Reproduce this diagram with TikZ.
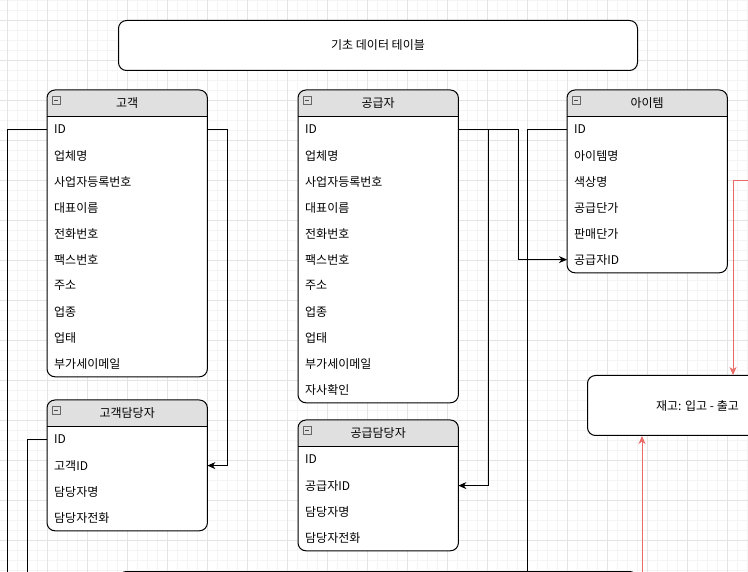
\documentclass[tikz,border=0pt]{standalone}
\usepackage{fontspec}
\setmainfont{Noto Sans CJK KR}
\usepackage{xcolor}
\usetikzlibrary{arrows.meta,positioning,calc}

\definecolor{gridmajor}{HTML}{E4E4E4}
\definecolor{gridminor}{HTML}{F4F4F4}
\definecolor{hdrgray}{HTML}{E0E0E0}
\definecolor{linkred}{HTML}{EA6B66}

\pgfdeclarelayer{grid}
\pgfdeclarelayer{frame}
\pgfsetlayers{grid,frame,main}

% table: name, top-left corner, title, fields
\newcommand{\ertable}[4]{%
  \node[hd] (#1) at (#2) {#3};
  \foreach \f [count=\i] in {#4} {
    \node[fld] (#1-\i) at ([yshift={-26pt*(\i-1)}]#1.south west) {\f};
    \coordinate (#1-end) at (#1-\i.south east);
  }
  \begin{pgfonlayer}{frame}
    \fill[white, rounded corners=8pt] (#1.north west) rectangle (#1-end);
    \fill[hdrgray] (#1.south west) [rounded corners=8pt] -- (#1.north west) -- (#1.north east) [sharp corners] -- (#1.south east) -- cycle;
    \draw[line width=1pt] (#1.south west) -- (#1.south east);
    \draw[line width=1pt, rounded corners=8pt] (#1.north west) rectangle (#1-end);
    \draw[black!60, line width=0.6pt] ([shift={(5pt,-6pt)}]#1.north west) rectangle ++(8pt,-8pt);
    \draw[black!70, line width=0.6pt] ([shift={(7pt,-10pt)}]#1.north west) -- ++(4pt,0pt);
  \end{pgfonlayer}
}

\begin{document}
\begin{tikzpicture}[
  x=1pt, y=-1pt,
  font=\fontsize{12pt}{14pt}\selectfont,
  hd/.style={anchor=north west, inner sep=0pt, minimum width=160pt, minimum height=26pt},
  fld/.style={anchor=north west, inner xsep=7pt, inner ysep=0pt, text width=146pt, align=left, minimum height=26pt},
  box/.style={draw, line width=1pt, rounded corners=8pt, fill=white, anchor=north west, inner sep=0pt},
  fk/.style={-{Stealth[length=8pt, width=7pt, inset=2.5pt]}, line width=1pt},
  fkred/.style={fk, draw=linkred},
  ln/.style={line width=1pt}]
\useasboundingbox (0,0) rectangle (748,572);
% grid
\begin{pgfonlayer}{grid}
  \fill[white] (0,0) rectangle (748,572);
  \foreach \x in {7,17,...,747} \draw[gridminor, line width=0.7pt] (\x,0) -- (\x,572);
  \foreach \y in {0,10,...,570} \draw[gridminor, line width=0.7pt] (0,\y) -- (748,\y);
  \foreach \x in {7,47,...,747} \draw[gridmajor, line width=0.7pt] (\x,0) -- (\x,572);
  \foreach \y in {20,60,...,570} \draw[gridmajor, line width=0.7pt] (0,\y) -- (748,\y);
\end{pgfonlayer}
% boxes
\node[box, minimum width=220pt, minimum height=60pt] (stock) at (587,375) {재고: 입고 - 출고};
\node[box, minimum width=519pt, minimum height=50pt] (base) at (118,20) {기초 데이터 테이블};
\node[box, minimum width=519pt, minimum height=60pt] (ledger) at (118,571) {};
% tables
\ertable{cust}{47,90}{고객}{ID,업체명,사업자등록번호,대표이름,전화번호,팩스번호,주소,업종,업태,부가세이메일}
\ertable{supp}{298,90}{공급자}{ID,업체명,사업자등록번호,대표이름,전화번호,팩스번호,주소,업종,업태,부가세이메일,자사확인}
\ertable{item}{567,90}{아이템}{ID,아이템명,색상명,공급단가,판매단가,공급자ID}
\ertable{custmgr}{47,400}{고객담당자}{ID,고객ID,담당자명,담당자전화}
\ertable{suppmgr}{298,420}{공급담당자}{ID,공급자ID,담당자명,담당자전화}
% links
\coordinate (custout) at (7,585);
\coordinate (mgrout) at (27,585);
\coordinate (itemout) at (527,585);
\coordinate (redin) at (760,181);
\coordinate (redout) at (642,585);
\draw[ln] (cust-1.west) -| (custout);
\draw[ln] (custmgr-1.west) -| (mgrout);
\draw[ln] (item-1.west) -| (itemout);
\draw[fk] (cust-1.east) -- ++(20,0) |- (custmgr-2.east);
\draw[fk] (supp-1.east) -- ++(30,0) |- (suppmgr-2.east);
\draw[fk] (supp-1.east) -- ++(60,0) |- (item-6.west);
\draw[fkred] (redin) -| ([xshift=146pt]stock.north west);
\draw[fkred] (redout) -- (redout |- stock.south);
\end{tikzpicture}
\end{document}
